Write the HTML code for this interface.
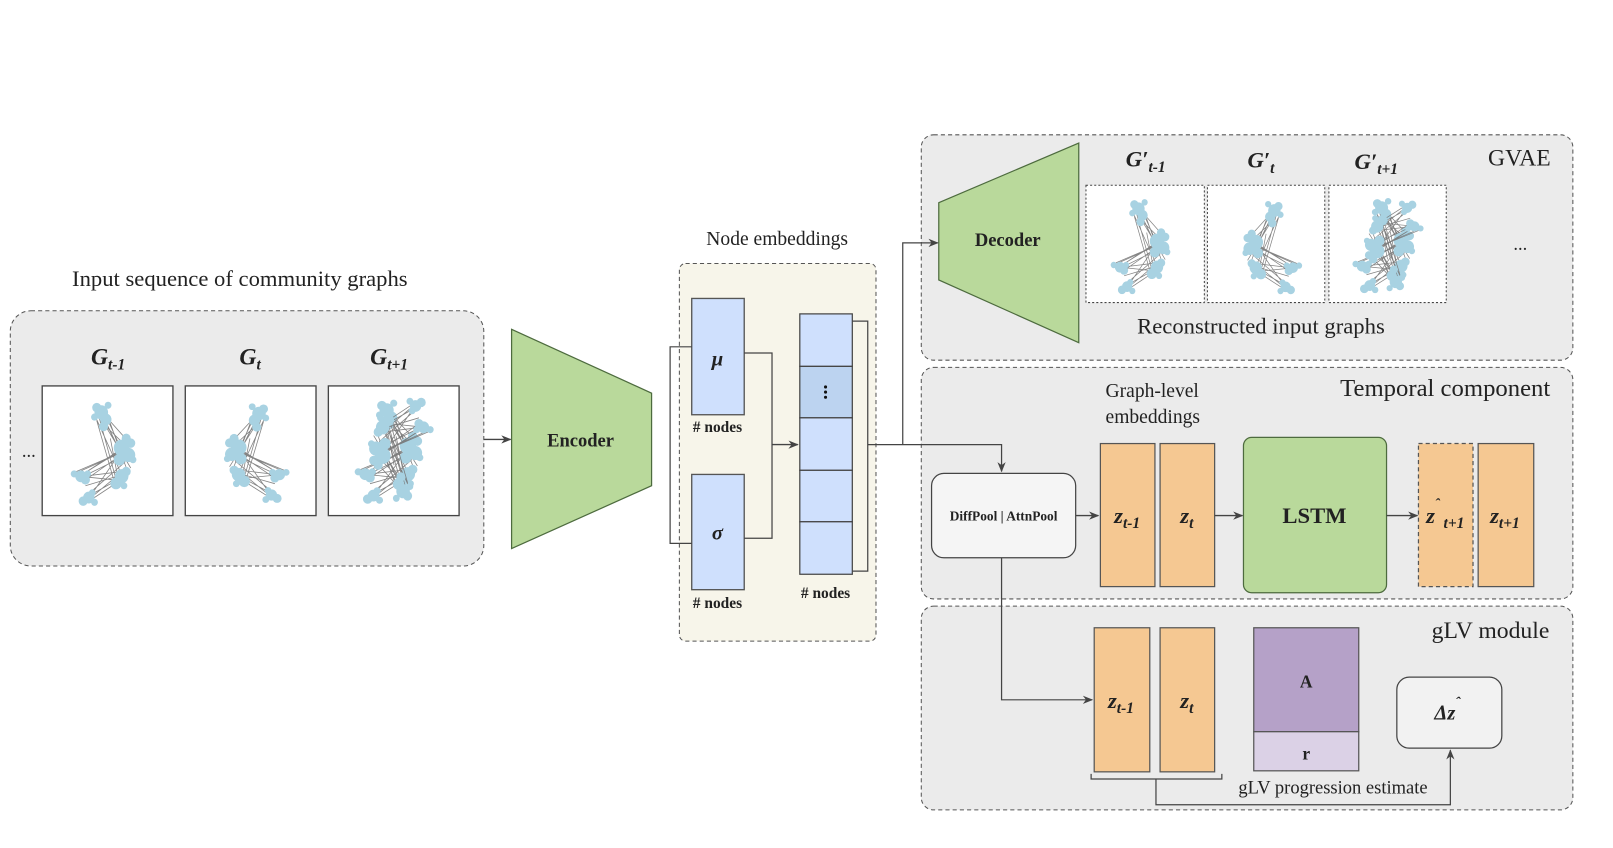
<!DOCTYPE html>
<html><head><meta charset="utf-8"><style>
html,body{margin:0;padding:0;background:#fff;}
svg{display:block;}
text{font-family:"Liberation Serif",serif;fill:#222;}
.b{font-weight:bold;}
.bi{font-weight:bold;font-style:italic;}
</style></head><body>
<svg width="1613" height="848" viewBox="0 0 1567 824" preserveAspectRatio="none" xmlns="http://www.w3.org/2000/svg">
<defs>
<marker id="ar" markerWidth="10" markerHeight="10" refX="9" refY="5" orient="auto" markerUnits="userSpaceOnUse"><path d="M0,1 L10,5 L0,9 L3,5 Z" fill="#444"/></marker>
<g id="gr">
 <g stroke="#777" stroke-width="0.7" opacity="0.9">
  <path d="M45,20 L60,50 M45,20 L65,60 M40,25 L55,75 M60,50 L25,72 M60,55 L30,75 M65,60 L35,85 M55,75 L25,72 M58,72 L30,80 M45,20 L62,55 M48,30 L70,65 M62,52 L20,70 M55,60 L32,92 M60,70 L35,90 M42,22 L58,78 M50,25 L66,58 M65,48 L28,70 M52,40 L60,80 M42,15 L70,45 M46,28 L72,52 M38,20 L64,75 M28,72 L62,68 M24,74 L58,58 M34,88 L64,72 M30,95 L60,76 M22,68 L66,50 M50,22 L68,70"/>
 </g>
 <g fill="#a8d2e2">
  <circle cx="44" cy="18" r="6"/><circle cx="48" cy="24" r="5"/><circle cx="40" cy="14" r="4"/><circle cx="50" cy="12" r="3"/><circle cx="46" cy="30" r="4"/><circle cx="38" cy="22" r="3"/>
  <circle cx="62" cy="48" r="7"/><circle cx="68" cy="54" r="6"/><circle cx="60" cy="58" r="5"/><circle cx="70" cy="44" r="4"/><circle cx="66" cy="40" r="4"/><circle cx="72" cy="58" r="3"/>
  <circle cx="62" cy="72" r="6"/><circle cx="57" cy="78" r="5"/><circle cx="66" cy="68" r="4"/><circle cx="64" cy="80" r="3"/>
  <circle cx="26" cy="72" r="5"/><circle cx="20" cy="70" r="3"/><circle cx="30" cy="75" r="4"/><circle cx="32" cy="70" r="3"/>
  <circle cx="33" cy="90" r="5"/><circle cx="28" cy="93" r="4"/><circle cx="38" cy="94" r="3"/><circle cx="36" cy="86" r="3"/>
 </g>
</g>
</defs>

<!-- Left section -->
<text x="233" y="278" font-size="22" text-anchor="middle">Input sequence of community graphs</text>
<rect x="10" y="302" width="460" height="248" rx="20" fill="#ebebeb" stroke="#555" stroke-dasharray="4,3"/>
<text x="105" y="354" font-size="23" class="bi" text-anchor="middle">G<tspan font-size="15" dy="5">t-1</tspan></text>
<text x="243" y="354" font-size="23" class="bi" text-anchor="middle">G<tspan font-size="15" dy="5">t</tspan></text>
<text x="378" y="354" font-size="23" class="bi" text-anchor="middle">G<tspan font-size="15" dy="5">t+1</tspan></text>
<text x="28" y="444" font-size="18" text-anchor="middle">...</text>
<rect x="41" y="375" width="127" height="126" fill="#fff" stroke="#444" stroke-width="1.3"/>
<rect x="180" y="375" width="127" height="126" fill="#fff" stroke="#444" stroke-width="1.3"/>
<rect x="319" y="375" width="127" height="126" fill="#fff" stroke="#444" stroke-width="1.3"/>
<use href="#gr" transform="translate(50,380) scale(1.1,1.15)"/>
<use href="#gr" transform="translate(300,382) scale(-1.1,1.1)"/>
<use href="#gr" transform="translate(325,378) scale(1.15,1.15)"/>
<use href="#gr" transform="translate(440,498) scale(-1.1,-1.15)"/>

<line x1="470" y1="427" x2="496" y2="427" stroke="#444" stroke-width="1.3" marker-end="url(#ar)"/>
<polygon points="497,320 633,382 633,472 497,533" fill="#b9d99b" stroke="#4d6b3e" stroke-width="1.2"/>
<text x="564" y="434" font-size="18" class="b" text-anchor="middle">Encoder</text>

<!-- Node embeddings -->
<text x="755" y="238" font-size="19" text-anchor="middle">Node embeddings</text>
<rect x="660" y="256" width="191" height="367" rx="6" fill="#f7f5ea" stroke="#555" stroke-dasharray="4,3"/>
<rect x="672" y="290" width="51" height="113" fill="#cfe0fd" stroke="#555" stroke-width="1.3"/>
<text x="697" y="355" font-size="20" class="bi" text-anchor="middle">μ</text>
<text x="697" y="420" font-size="15" class="b" text-anchor="middle"># nodes</text>
<rect x="672" y="461" width="51" height="112" fill="#cfe0fd" stroke="#555" stroke-width="1.3"/>
<text x="697" y="524" font-size="20" class="bi" text-anchor="middle">σ</text>
<text x="697" y="591" font-size="15" class="b" text-anchor="middle"># nodes</text>
<g fill="none" stroke="#444" stroke-width="1.2">
<polyline points="672,337 651,337 651,528 672,528"/>
<polyline points="723,343 750,343 750,523 723,523"/>
<polyline points="828,312 843,312 843,555 828,555"/>
</g>
<line x1="750" y1="432" x2="775" y2="432" stroke="#444" stroke-width="1.3" marker-end="url(#ar)"/>
<g stroke="#444" stroke-width="1.2">
<rect x="777" y="305" width="51" height="51" fill="#cfe0fd"/>
<rect x="777" y="356" width="51" height="50" fill="#bcd3f0"/>
<rect x="777" y="406" width="51" height="51" fill="#cfe0fd"/>
<rect x="777" y="457" width="51" height="50" fill="#cfe0fd"/>
<rect x="777" y="507" width="51" height="51" fill="#cfe0fd"/>
</g>
<g fill="#111"><circle cx="802" cy="376" r="1.5"/><circle cx="802" cy="381" r="1.5"/><circle cx="802" cy="386" r="1.5"/></g>
<text x="802" y="581" font-size="15" class="b" text-anchor="middle"># nodes</text>

<!-- GVAE -->
<rect x="895" y="131" width="633" height="219" rx="12" fill="#ebebeb" stroke="#555" stroke-dasharray="4,3"/>
<text x="1476" y="161" font-size="23" text-anchor="middle">GVAE</text>
<polygon points="912,197 1048,139 1048,333 912,272" fill="#b9d99b" stroke="#4d6b3e" stroke-width="1.2"/>
<text x="979" y="239" font-size="18" class="b" text-anchor="middle">Decoder</text>
<text x="1113" y="162" font-size="22" class="bi" text-anchor="middle">G′<tspan font-size="15" dy="5">t-1</tspan></text>
<text x="1225" y="163" font-size="22" class="bi" text-anchor="middle">G′<tspan font-size="15" dy="5">t</tspan></text>
<text x="1337" y="164" font-size="22" class="bi" text-anchor="middle">G′<tspan font-size="15" dy="5">t+1</tspan></text>
<g fill="#fff" stroke="#444" stroke-dasharray="2,2">
<rect x="1055" y="180" width="115" height="114"/>
<rect x="1173" y="180" width="114" height="114"/>
<rect x="1291" y="180" width="114" height="114"/>
</g>
<use href="#gr" transform="translate(1062,184) scale(1,1.05)"/>
<use href="#gr" transform="translate(1282,186) scale(-1,1.03)"/>
<use href="#gr" transform="translate(1296,183) scale(1.05,1.05)"/>
<use href="#gr" transform="translate(1400,292) scale(-1,-1)"/>
<text x="1477" y="243" font-size="18" text-anchor="middle">...</text>
<text x="1225" y="324" font-size="22" text-anchor="middle">Reconstructed input graphs</text>

<!-- Temporal -->
<rect x="895" y="357" width="633" height="225" rx="12" fill="#ebebeb" stroke="#555" stroke-dasharray="4,3"/>
<text x="1404" y="385" font-size="24" text-anchor="middle">Temporal component</text>
<text x="1074" y="386" font-size="19">Graph-level</text>
<text x="1074" y="411" font-size="19">embeddings</text>
<rect x="905" y="460" width="140" height="82" rx="12" fill="#f5f5f5" stroke="#444" stroke-width="1.2"/>
<text x="975" y="506" font-size="13" class="b" text-anchor="middle">DiffPool | AttnPool</text>
<line x1="1045" y1="501" x2="1067" y2="501" stroke="#444" stroke-width="1.3" marker-end="url(#ar)"/>
<g fill="#f5c892" stroke="#555" stroke-width="1.2">
<rect x="1069" y="431" width="53" height="139"/>
<rect x="1127" y="431" width="53" height="139"/>
<rect x="1436" y="431" width="54" height="139"/>
<rect x="1378" y="431" width="53" height="139" stroke-dasharray="4,3"/>
</g>
<text x="1095" y="508" font-size="22" class="bi" text-anchor="middle">z<tspan font-size="15" dy="5">t-1</tspan></text>
<text x="1153" y="508" font-size="22" class="bi" text-anchor="middle">z<tspan font-size="15" dy="5">t</tspan></text>
<text x="1404" y="508" font-size="22" class="bi" text-anchor="middle">z<tspan dy="-14" font-size="14">ˆ</tspan><tspan font-size="15" dy="19"> t+1</tspan></text>
<text x="1462" y="508" font-size="22" class="bi" text-anchor="middle">z<tspan font-size="15" dy="5">t+1</tspan></text>
<line x1="1180" y1="501" x2="1207" y2="501" stroke="#444" stroke-width="1.3" marker-end="url(#ar)"/>
<rect x="1208" y="425" width="139" height="151" rx="8" fill="#b9d99b" stroke="#4d6b3e" stroke-width="1.2"/>
<text x="1277" y="508" font-size="22" class="b" text-anchor="middle">LSTM</text>
<line x1="1347" y1="501" x2="1377" y2="501" stroke="#444" stroke-width="1.3" marker-end="url(#ar)"/>

<!-- gLV -->
<rect x="895" y="589" width="633" height="198" rx="12" fill="#ebebeb" stroke="#555" stroke-dasharray="4,3"/>
<text x="1448" y="620" font-size="23" text-anchor="middle">gLV module</text>
<g fill="#f5c892" stroke="#555" stroke-width="1.2">
<rect x="1063" y="610" width="54" height="140"/>
<rect x="1127" y="610" width="53" height="140"/>
</g>
<text x="1089" y="688" font-size="22" class="bi" text-anchor="middle">z<tspan font-size="15" dy="5">t-1</tspan></text>
<text x="1153" y="688" font-size="22" class="bi" text-anchor="middle">z<tspan font-size="15" dy="5">t</tspan></text>
<rect x="1218" y="610" width="102" height="101" fill="#b5a1c8" stroke="#555" stroke-width="1.2"/>
<rect x="1218" y="711" width="102" height="38" fill="#dbd1e6" stroke="#555" stroke-width="1.2"/>
<text x="1269" y="668" font-size="17" class="b" text-anchor="middle">A</text>
<text x="1269" y="738" font-size="17" class="b" text-anchor="middle">r</text>
<rect x="1357" y="658" width="102" height="69" rx="12" fill="#f2f2f2" stroke="#444" stroke-width="1.2"/>
<text x="1406" y="699" font-size="20" class="bi" text-anchor="middle">Δz<tspan dy="-12" font-size="14">ˆ</tspan></text>
<text x="1295" y="771" font-size="18" text-anchor="middle">gLV progression estimate</text>

<!-- connectors -->
<g fill="none" stroke="#444" stroke-width="1.2">
<polyline points="843,432 973,432 973,458" marker-end="url(#ar)"/>
<polyline points="877,432 877,236 911,236" marker-end="url(#ar)"/>
<polyline points="973,542 973,680 1061,680" marker-end="url(#ar)"/>
<polyline points="1060,752 1060,757 1187,757 1187,752"/>
<polyline points="1123,757 1123,782 1409,782 1409,729" marker-end="url(#ar)"/>
</g>
</svg>
</body></html>
